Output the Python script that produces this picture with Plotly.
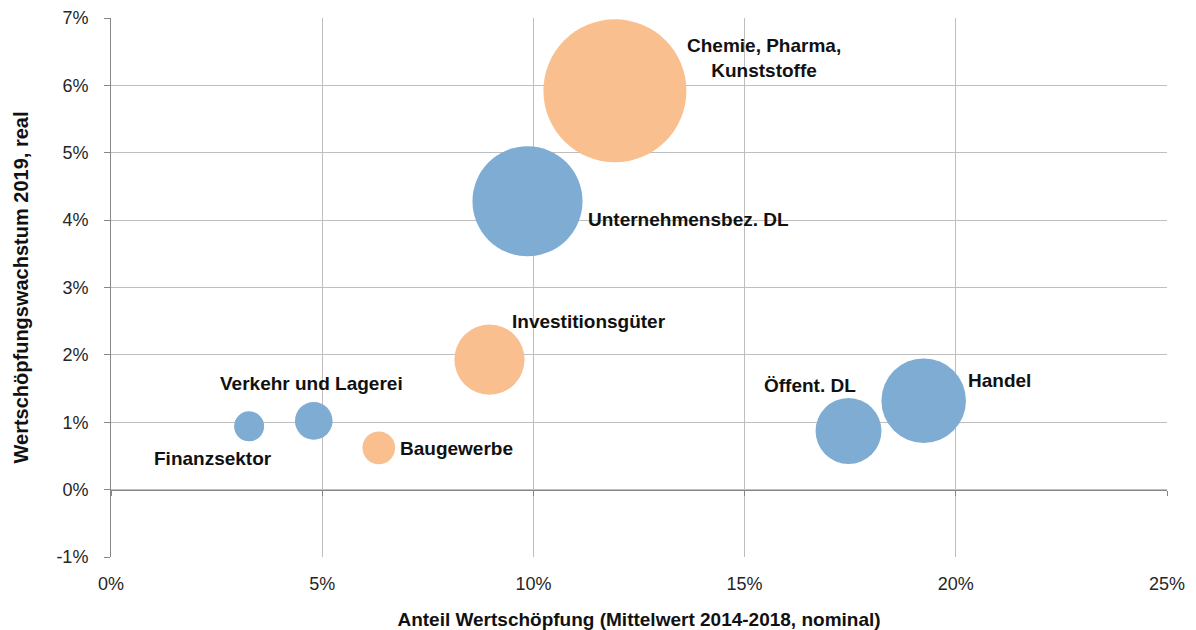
import plotly.graph_objects as go

# --- data ---
dl_names = ["Unternehmensbez. DL", "Verkehr und Lagerei", "Finanzsektor", "Öffent. DL", "Handel"]
dl_share = [9.86, 4.80, 3.27, 17.46, 19.24]          # Anteil Wertschöpfung, %
dl_growth = [4.28, 1.02, 0.94, 0.87, 1.32]           # Wachstum 2019 real, %
dl_contrib = [0.418, 0.0488, 0.0311, 0.150, 0.247]   # bubble size (Wachstumsbeitrag, pp)

ind_names = ["Chemie, Pharma,<br>Kunststoffe", "Investitionsgüter", "Baugewerbe"]
ind_share = [11.93, 8.96, 6.34]
ind_growth = [5.92, 1.93, 0.62]
ind_contrib = [0.706, 0.170, 0.0367]

x_ticks = [0, 5, 10, 15, 20, 25]
x_tick_labels = ["0%", "5%", "10%", "15%", "20%", "25%"]
y_ticks = [-1, 0, 1, 2, 3, 4, 5, 6, 7]
y_tick_labels = ["-1%", "0%", "1%", "2%", "3%", "4%", "5%", "6%", "7%"]

# --- styling ---
BLUE = "#7EACD3"
ORANGE = "#F9BF8F"
GRID = "#BEBEBE"
AXIS = "#868686"
FONT = "Liberation Sans, Arial, sans-serif"
MAX_DIAM = 143
sizeref = 2.0 * max(dl_contrib + ind_contrib) / (MAX_DIAM ** 2)

fig = go.Figure()
for xs, ys, ss, col in [(dl_share, dl_growth, dl_contrib, BLUE),
                        (ind_share, ind_growth, ind_contrib, ORANGE)]:
    fig.add_trace(go.Scatter(
        x=xs, y=ys, mode="markers",
        marker=dict(size=ss, sizemode="area", sizeref=sizeref, color=col,
                    opacity=1, line=dict(width=0)),
        showlegend=False, hoverinfo="skip"))

# dummy trace so that the tick-mark axis on the 0% line is drawn
fig.add_trace(go.Scatter(x=[None], y=[None], xaxis="x2", showlegend=False, hoverinfo="skip"))

# label placement (pixel offsets from bubble centre)
label_style = {
    "Unternehmensbez. DL": dict(xshift=59, yshift=-18, xanchor="left"),
    "Verkehr und Lagerei": dict(xshift=-2, yshift=37, xanchor="center"),
    "Finanzsektor": dict(xshift=-36, yshift=-32, xanchor="center"),
    "Öffent. DL": dict(xshift=-39, yshift=46, xanchor="center"),
    "Handel": dict(xshift=42, yshift=20, xanchor="left"),
    "Chemie, Pharma,<br>Kunststoffe": dict(xshift=149, yshift=33, xanchor="center"),
    "Investitionsgüter": dict(xshift=21, yshift=38, xanchor="left"),
    "Baugewerbe": dict(xshift=19, yshift=-1, xanchor="left"),
}
for names, xs, ys in [(dl_names, dl_share, dl_growth), (ind_names, ind_share, ind_growth)]:
    for n, xv, yv in zip(names, xs, ys):
        st = label_style[n]
        fig.add_annotation(x=xv, y=yv, xref="x", yref="y", text=n, showarrow=False,
                           xshift=st["xshift"], yshift=st["yshift"], xanchor=st["xanchor"],
                           yanchor="middle", align="center",
                           font=dict(family=FONT, size=19, color="#111111", weight="bold"))

yr = [y_ticks[0], y_ticks[-1]]
fig.update_layout(
    width=1188, height=622,
    margin=dict(l=103, r=29, t=10, b=73),
    paper_bgcolor="white", plot_bgcolor="white",
    font=dict(family=FONT, size=18, color="#262626"),
    xaxis=dict(range=[x_ticks[0], x_ticks[-1]], tickmode="array", tickvals=x_ticks,
               ticktext=x_tick_labels, automargin=False,
               showgrid=True, gridcolor=GRID, gridwidth=1, zeroline=False,
               showline=False, ticks="", ticklabelstandoff=14,
               title=dict(text="Anteil Wertschöpfung (Mittelwert 2014-2018, nominal)",
                          font=dict(family=FONT, size=19, color="#111111", weight="bold"),
                          standoff=19)),
    xaxis2=dict(overlaying="x", matches="x", anchor="free", automargin=False,
                position=(0 - yr[0]) / (yr[1] - yr[0]),
                tickvals=x_ticks, showticklabels=False, showgrid=False, zeroline=False,
                showline=True, linecolor=AXIS, linewidth=1,
                ticks="outside", ticklen=5, tickcolor=AXIS),
    yaxis=dict(range=yr, tickmode="array", tickvals=y_ticks, ticktext=y_tick_labels,
               automargin=False,
               showgrid=True, gridcolor=GRID, gridwidth=1,
               zeroline=False, showline=True, linecolor=AXIS, linewidth=1,
               ticks="outside", ticklen=6, tickcolor=AXIS, ticklabelstandoff=12,
               title=dict(text="Wertschöpfungswachstum 2019, real",
                          font=dict(family=FONT, size=20, color="#111111", weight="bold"),
                          standoff=22)),
)

fig.write_html("out.html")
